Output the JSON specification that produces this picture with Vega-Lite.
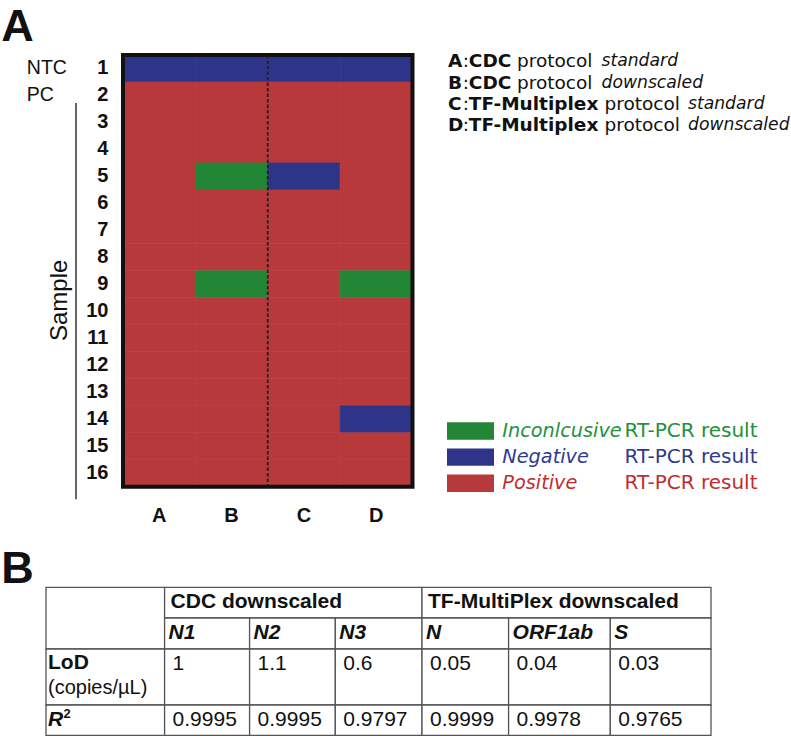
{
  "$schema": "https://vega.github.io/schema/vega-lite/v6.json",
  "padding": {"left": 1, "top": 5, "right": 0, "bottom": 0},
  "background": "white",
  "config": {"font": "Liberation Sans", "view": {"stroke": null}},
  "datasets": {
    "cells": [
      {"sample": 1, "protocol": "A", "result": "Negative"}, {"sample": 1, "protocol": "B", "result": "Negative"}, {"sample": 1, "protocol": "C", "result": "Negative"}, {"sample": 1, "protocol": "D", "result": "Negative"},
      {"sample": 2, "protocol": "A", "result": "Positive"}, {"sample": 2, "protocol": "B", "result": "Positive"}, {"sample": 2, "protocol": "C", "result": "Positive"}, {"sample": 2, "protocol": "D", "result": "Positive"},
      {"sample": 3, "protocol": "A", "result": "Positive"}, {"sample": 3, "protocol": "B", "result": "Positive"}, {"sample": 3, "protocol": "C", "result": "Positive"}, {"sample": 3, "protocol": "D", "result": "Positive"},
      {"sample": 4, "protocol": "A", "result": "Positive"}, {"sample": 4, "protocol": "B", "result": "Positive"}, {"sample": 4, "protocol": "C", "result": "Positive"}, {"sample": 4, "protocol": "D", "result": "Positive"},
      {"sample": 5, "protocol": "A", "result": "Positive"}, {"sample": 5, "protocol": "B", "result": "Inconclusive"}, {"sample": 5, "protocol": "C", "result": "Negative"}, {"sample": 5, "protocol": "D", "result": "Positive"},
      {"sample": 6, "protocol": "A", "result": "Positive"}, {"sample": 6, "protocol": "B", "result": "Positive"}, {"sample": 6, "protocol": "C", "result": "Positive"}, {"sample": 6, "protocol": "D", "result": "Positive"},
      {"sample": 7, "protocol": "A", "result": "Positive"}, {"sample": 7, "protocol": "B", "result": "Positive"}, {"sample": 7, "protocol": "C", "result": "Positive"}, {"sample": 7, "protocol": "D", "result": "Positive"},
      {"sample": 8, "protocol": "A", "result": "Positive"}, {"sample": 8, "protocol": "B", "result": "Positive"}, {"sample": 8, "protocol": "C", "result": "Positive"}, {"sample": 8, "protocol": "D", "result": "Positive"},
      {"sample": 9, "protocol": "A", "result": "Positive"}, {"sample": 9, "protocol": "B", "result": "Inconclusive"}, {"sample": 9, "protocol": "C", "result": "Positive"}, {"sample": 9, "protocol": "D", "result": "Inconclusive"},
      {"sample": 10, "protocol": "A", "result": "Positive"}, {"sample": 10, "protocol": "B", "result": "Positive"}, {"sample": 10, "protocol": "C", "result": "Positive"}, {"sample": 10, "protocol": "D", "result": "Positive"},
      {"sample": 11, "protocol": "A", "result": "Positive"}, {"sample": 11, "protocol": "B", "result": "Positive"}, {"sample": 11, "protocol": "C", "result": "Positive"}, {"sample": 11, "protocol": "D", "result": "Positive"},
      {"sample": 12, "protocol": "A", "result": "Positive"}, {"sample": 12, "protocol": "B", "result": "Positive"}, {"sample": 12, "protocol": "C", "result": "Positive"}, {"sample": 12, "protocol": "D", "result": "Positive"},
      {"sample": 13, "protocol": "A", "result": "Positive"}, {"sample": 13, "protocol": "B", "result": "Positive"}, {"sample": 13, "protocol": "C", "result": "Positive"}, {"sample": 13, "protocol": "D", "result": "Positive"},
      {"sample": 14, "protocol": "A", "result": "Positive"}, {"sample": 14, "protocol": "B", "result": "Positive"}, {"sample": 14, "protocol": "C", "result": "Positive"}, {"sample": 14, "protocol": "D", "result": "Negative"},
      {"sample": 15, "protocol": "A", "result": "Positive"}, {"sample": 15, "protocol": "B", "result": "Positive"}, {"sample": 15, "protocol": "C", "result": "Positive"}, {"sample": 15, "protocol": "D", "result": "Positive"},
      {"sample": 16, "protocol": "A", "result": "Positive"}, {"sample": 16, "protocol": "B", "result": "Positive"}, {"sample": 16, "protocol": "C", "result": "Positive"}, {"sample": 16, "protocol": "D", "result": "Positive"}
    ],
    "controls": [
      {"sample": 1, "label": "NTC"},
      {"sample": 2, "label": "PC"}
    ],
    "protocols": [
      {"code": "A", "method": "CDC", "scale": "standard"},
      {"code": "B", "method": "CDC", "scale": "downscaled"},
      {"code": "C", "method": "TF-Multiplex", "scale": "standard"},
      {"code": "D", "method": "TF-Multiplex", "scale": "downscaled"}
    ],
    "results": [
      {"result": "Inconclusive", "label": "Inconlcusive"},
      {"result": "Negative", "label": "Negative"},
      {"result": "Positive", "label": "Positive"}
    ],
    "table": [
      {"c0": 0, "c1": 1, "r0": 0, "r1": 2, "kind": "blank", "text": ""},
      {"c0": 1, "c1": 4, "r0": 0, "r1": 1, "kind": "method", "text": "CDC downscaled"},
      {"c0": 4, "c1": 7, "r0": 0, "r1": 1, "kind": "method", "text": "TF-MultiPlex downscaled"},
      {"c0": 1, "c1": 2, "r0": 1, "r1": 2, "kind": "target", "text": "N1"},
      {"c0": 2, "c1": 3, "r0": 1, "r1": 2, "kind": "target", "text": "N2"},
      {"c0": 3, "c1": 4, "r0": 1, "r1": 2, "kind": "target", "text": "N3"},
      {"c0": 4, "c1": 5, "r0": 1, "r1": 2, "kind": "target", "text": "N"},
      {"c0": 5, "c1": 6, "r0": 1, "r1": 2, "kind": "target", "text": "ORF1ab"},
      {"c0": 6, "c1": 7, "r0": 1, "r1": 2, "kind": "target", "text": "S"},
      {"c0": 0, "c1": 1, "r0": 2, "r1": 3, "kind": "measure", "text": "LoD", "unit": "(copies/µL)"},
      {"c0": 1, "c1": 2, "r0": 2, "r1": 3, "kind": "value", "text": "1"},
      {"c0": 2, "c1": 3, "r0": 2, "r1": 3, "kind": "value", "text": "1.1"},
      {"c0": 3, "c1": 4, "r0": 2, "r1": 3, "kind": "value", "text": "0.6"},
      {"c0": 4, "c1": 5, "r0": 2, "r1": 3, "kind": "value", "text": "0.05"},
      {"c0": 5, "c1": 6, "r0": 2, "r1": 3, "kind": "value", "text": "0.04"},
      {"c0": 6, "c1": 7, "r0": 2, "r1": 3, "kind": "value", "text": "0.03"},
      {"c0": 0, "c1": 1, "r0": 3, "r1": 4, "kind": "symbol", "text": "R", "sup": "2"},
      {"c0": 1, "c1": 2, "r0": 3, "r1": 4, "kind": "value", "text": "0.9995"},
      {"c0": 2, "c1": 3, "r0": 3, "r1": 4, "kind": "value", "text": "0.9995"},
      {"c0": 3, "c1": 4, "r0": 3, "r1": 4, "kind": "value", "text": "0.9797"},
      {"c0": 4, "c1": 5, "r0": 3, "r1": 4, "kind": "value", "text": "0.9999"},
      {"c0": 5, "c1": 6, "r0": 3, "r1": 4, "kind": "value", "text": "0.9978"},
      {"c0": 6, "c1": 7, "r0": 3, "r1": 4, "kind": "value", "text": "0.9765"}
    ]
  },
  "spacing": 20.3,
  "vconcat": [
    {
      "title": {"text": "A", "anchor": "start", "frame": "bounds", "dx": -25.5, "fontSize": 45, "fontWeight": "bold", "color": "#111111", "offset": 2},
      "spacing": 32,
      "hconcat": [
        {
          "spacing": 12,
          "hconcat": [
            {
              "width": 62.4,
              "height": 431.7,
              "layer": [
                {
                  "data": {"name": "cells"},
                  "transform": [{"filter": "datum.protocol === 'A'"}],
                  "mark": {"type": "text", "align": "right", "baseline": "middle", "fontSize": 20, "fontWeight": "bold", "color": "#111111"},
                  "encoding": {"x": {"value": 62.4}, "y": {"field": "sample", "type": "ordinal", "axis": null, "scale": {"type": "band", "paddingInner": 0, "paddingOuter": 0}}, "text": {"field": "sample"}}
                },
                {
                  "data": {"name": "controls"},
                  "mark": {"type": "text", "align": "left", "baseline": "middle", "fontSize": 19.5, "color": "#111111"},
                  "encoding": {"x": {"value": -19.2}, "y": {"field": "sample", "type": "ordinal"}, "text": {"field": "label"}}
                },
                {
                  "data": {"values": [{}]},
                  "mark": {"type": "rule", "color": "#333333", "strokeWidth": 1.5, "yOffset": -6, "y2Offset": 12.6},
                  "encoding": {"x": {"value": 30}, "y": {"datum": 3, "type": "ordinal", "bandPosition": 0}, "y2": {"value": "height"}}
                },
                {
                  "data": {"values": [{}]},
                  "mark": {"type": "text", "angle": 270, "align": "center", "baseline": "middle", "fontSize": 24, "color": "#111111", "yOffset": 2.5},
                  "encoding": {"x": {"value": 14.3}, "y": {"datum": 10, "type": "ordinal", "bandPosition": 0}, "text": {"value": "Sample"}}
                }
              ]
            },
            {
              "width": 289.5,
              "height": 431.7,
              "layer": [
                {
                  "data": {"name": "cells"},
                  "mark": {"type": "rect", "strokeWidth": 0.7},
                  "encoding": {
                    "x": {"field": "protocol", "type": "nominal", "scale": {"paddingInner": 0, "paddingOuter": 0}, "axis": null},
                    "y": {"field": "sample", "type": "ordinal", "scale": {"paddingInner": 0, "paddingOuter": 0}, "axis": null},
                    "color": {"field": "result", "type": "nominal", "scale": {"domain": ["Inconclusive", "Negative", "Positive"], "range": ["#238636", "#2e3589", "#b7393c"]}, "legend": null},
                    "stroke": {"field": "result", "type": "nominal", "scale": {"domain": ["Inconclusive", "Negative", "Positive"], "range": ["#238636", "#2e3589", "#b7393c"]}, "legend": null}
                  }
                },
                {
                  "data": {"name": "cells"},
                  "transform": [{"filter": "datum.sample === 1"}],
                  "mark": {"type": "text", "align": "center", "baseline": "middle", "fontSize": 20, "fontWeight": "bold", "color": "#111111", "yOffset": 29.6},
                  "encoding": {"x": {"field": "protocol", "type": "nominal"}, "y": {"value": "height"}, "text": {"field": "protocol"}}
                },
                {
                  "data": {"values": [{}]},
                  "mark": {"type": "rule", "strokeDash": [3.5, 2], "strokeWidth": 1.8, "color": "#222222"},
                  "encoding": {"x": {"datum": "C", "type": "nominal", "bandPosition": 0}}
                },
                {
                  "data": {"values": [{}]},
                  "mark": {"type": "rect", "filled": false, "stroke": "#111111", "strokeWidth": 4},
                  "encoding": {"x": {"value": 0}, "x2": {"value": "width"}, "y": {"value": 0}, "y2": {"value": "height"}}
                }
              ]
            }
          ]
        },
        {
          "spacing": 277,
          "vconcat": [
            {
              "width": 340,
              "height": 85.3,
              "data": {"name": "protocols"},
              "encoding": {"y": {"field": "code", "type": "nominal", "axis": null}},
              "layer": [
                {"mark": {"type": "text", "font": "DejaVu Sans", "align": "left", "baseline": "middle", "fontSize": 18.5, "fontWeight": "bold", "color": "#111111", "yOffset": -4.4}, "encoding": {"x": {"value": 1}, "text": {"field": "code"}}},
                {"mark": {"type": "text", "font": "DejaVu Sans", "align": "left", "baseline": "middle", "fontSize": 18.5, "color": "#111111", "yOffset": -4.4}, "encoding": {"x": {"value": 15.8}, "text": {"value": ":"}}},
                {"mark": {"type": "text", "font": "DejaVu Sans", "align": "left", "baseline": "middle", "fontSize": 18.5, "fontWeight": "bold", "color": "#111111", "yOffset": -4.4}, "encoding": {"x": {"value": 21.8}, "text": {"field": "method"}}},
                {"transform": [{"filter": "datum.method === 'CDC'"}], "mark": {"type": "text", "font": "DejaVu Sans", "align": "left", "baseline": "middle", "fontSize": 18.5, "color": "#111111", "yOffset": -4.4}, "encoding": {"x": {"value": 70}, "text": {"value": "protocol"}}},
                {"transform": [{"filter": "datum.method !== 'CDC'"}], "mark": {"type": "text", "font": "DejaVu Sans", "align": "left", "baseline": "middle", "fontSize": 18.5, "color": "#111111", "yOffset": -4.4}, "encoding": {"x": {"value": 157.5}, "text": {"value": "protocol"}}},
                {"transform": [{"filter": "datum.method === 'CDC'"}], "mark": {"type": "text", "font": "DejaVu Sans", "align": "left", "baseline": "middle", "fontSize": 17.2, "fontStyle": "italic", "color": "#111111", "yOffset": -4.4}, "encoding": {"x": {"value": 154.5}, "text": {"field": "scale"}}},
                {"transform": [{"filter": "datum.method !== 'CDC'"}], "mark": {"type": "text", "font": "DejaVu Sans", "align": "left", "baseline": "middle", "fontSize": 17.2, "fontStyle": "italic", "color": "#111111", "yOffset": -4.4}, "encoding": {"x": {"value": 241}, "text": {"field": "scale"}}}
              ]
            },
            {
              "width": 320,
              "height": 78.3,
              "data": {"name": "results"},
              "encoding": {"y": {"field": "result", "type": "nominal", "axis": null, "scale": {"domain": ["Inconclusive", "Negative", "Positive"], "paddingInner": 0.333, "paddingOuter": 0.1667}}},
              "layer": [
                {"mark": {"type": "rect"}, "encoding": {"x": {"value": 0}, "x2": {"value": 47}, "color": {"field": "result", "type": "nominal", "scale": {"domain": ["Inconclusive", "Negative", "Positive"], "range": ["#238636", "#2e3589", "#b7393c"]}, "legend": null}}},
                {"mark": {"type": "text", "font": "DejaVu Sans", "align": "left", "baseline": "middle", "fontSize": 19.3, "fontStyle": "italic"}, "encoding": {"x": {"value": 55.3}, "text": {"field": "label"}, "fill": {"field": "result", "type": "nominal", "scale": {"domain": ["Inconclusive", "Negative", "Positive"], "range": ["#23913c", "#2f3a8f", "#c42b30"]}, "legend": null}}},
                {"mark": {"type": "text", "font": "DejaVu Sans", "align": "left", "baseline": "middle", "fontSize": 20}, "encoding": {"x": {"value": 177.6}, "text": {"value": "RT-PCR result"}, "fill": {"field": "result", "type": "nominal", "legend": null}}}
              ]
            }
          ]
        }
      ]
    },
    {
      "width": 665,
      "height": 148,
      "title": {"text": "B", "anchor": "start", "frame": "group", "dx": -44.7, "fontSize": 45, "fontWeight": "bold", "color": "#111111", "offset": -5.7},
      "data": {"name": "table"},
      "layer": [
        {
          "mark": {"type": "rect", "fill": "white", "stroke": "#555555", "strokeWidth": 1.3},
          "encoding": {
            "x": {"field": "c0", "type": "quantitative", "scale": {"domain": [0, 1, 2, 3, 4, 5, 6, 7], "range": [0, 118.6, 203.6, 289.3, 376, 462.6, 564.3, 665], "zero": false, "nice": false}, "axis": null},
            "x2": {"field": "c1"},
            "y": {"field": "r0", "type": "quantitative", "scale": {"domain": [0, 1, 2, 3, 4], "range": [0, 30.7, 61.7, 117.7, 148], "zero": false, "nice": false}, "axis": null},
            "y2": {"field": "r1"}
          }
        },
        {
          "transform": [{"filter": "datum.kind === 'method'"}],
          "mark": {"type": "text", "align": "left", "baseline": "middle", "fontSize": 21, "fontWeight": "bold", "color": "#111111", "dx": 6, "dy": 14.5},
          "encoding": {"x": {"field": "c0", "type": "quantitative", "axis": null}, "y": {"field": "r0", "type": "quantitative", "axis": null}, "text": {"field": "text"}}
        },
        {
          "transform": [{"filter": "datum.kind === 'target'"}],
          "mark": {"type": "text", "align": "left", "baseline": "middle", "fontSize": 21, "fontWeight": "bold", "fontStyle": "italic", "color": "#111111", "dx": 4, "dy": 15},
          "encoding": {"x": {"field": "c0", "type": "quantitative", "axis": null}, "y": {"field": "r0", "type": "quantitative", "axis": null}, "text": {"field": "text"}}
        },
        {
          "transform": [{"filter": "datum.kind === 'value'"}],
          "mark": {"type": "text", "align": "left", "baseline": "middle", "fontSize": 21, "color": "#111111", "dx": 8, "dy": 15},
          "encoding": {"x": {"field": "c0", "type": "quantitative", "axis": null}, "y": {"field": "r0", "type": "quantitative", "axis": null}, "text": {"field": "text"}}
        },
        {
          "transform": [{"filter": "datum.kind === 'measure'"}],
          "mark": {"type": "text", "align": "left", "baseline": "middle", "fontSize": 21, "fontWeight": "bold", "color": "#111111", "dx": 2, "dy": 14},
          "encoding": {"x": {"field": "c0", "type": "quantitative", "axis": null}, "y": {"field": "r0", "type": "quantitative", "axis": null}, "text": {"field": "text"}}
        },
        {
          "transform": [{"filter": "datum.kind === 'measure'"}],
          "mark": {"type": "text", "align": "left", "baseline": "middle", "fontSize": 20, "color": "#111111", "dx": 2, "dy": 39},
          "encoding": {"x": {"field": "c0", "type": "quantitative", "axis": null}, "y": {"field": "r0", "type": "quantitative", "axis": null}, "text": {"field": "unit"}}
        },
        {
          "transform": [{"filter": "datum.kind === 'symbol'"}],
          "mark": {"type": "text", "align": "left", "baseline": "middle", "fontSize": 21, "fontWeight": "bold", "fontStyle": "italic", "color": "#111111", "dx": 2, "dy": 15},
          "encoding": {"x": {"field": "c0", "type": "quantitative", "axis": null}, "y": {"field": "r0", "type": "quantitative", "axis": null}, "text": {"field": "text"}}
        },
        {
          "transform": [{"filter": "datum.kind === 'symbol'"}],
          "mark": {"type": "text", "align": "left", "baseline": "middle", "fontSize": 13, "fontWeight": "bold", "color": "#111111", "dx": 17.5, "dy": 9},
          "encoding": {"x": {"field": "c0", "type": "quantitative", "axis": null}, "y": {"field": "r0", "type": "quantitative", "axis": null}, "text": {"field": "sup"}}
        }
      ]
    }
  ]
}
